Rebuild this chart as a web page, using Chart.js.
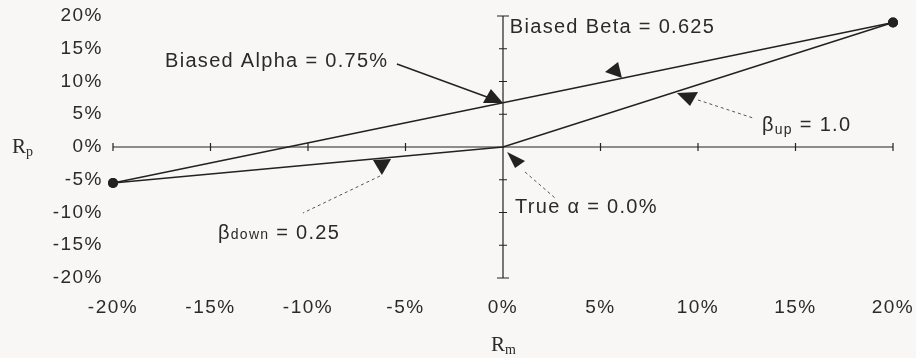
<!DOCTYPE html>
<html><head><meta charset="utf-8">
<script src="https://cdn.jsdelivr.net/npm/chart.js@4.4.0/dist/chart.umd.min.js"></script>
<style>html,body{margin:0;padding:0;background:#f8f7f5;} #wrap{width:916px;height:358px;position:relative;}</style>
</head><body><div id="wrap"><canvas id="c"></canvas></div>
<script>
// ---- data (percent) ----
const marketReturns = [-20, 0, 20];        // R_m for the true (kinked) line
const trueReturns   = [-5.5, 0, 19];       // R_p for the true (kinked) line
const biasedMarket  = [-20, 20];           // R_m for the fitted (biased) line
const biasedReturns = [-5.5, 19];          // R_p for the fitted (biased) line
const xTicks = [-20, -15, -10, -5, 0, 5, 10, 15, 20];
const yTicks = [-20, -15, -10, -5, 0, 5, 10, 15, 20];

// annotation texts & anchor points (in data units)
const noteBeta   = {text: 'Biased Beta = 0.625', x: 0.35, y: 18.2};
const noteAlpha  = {text: 'Biased Alpha = 0.75%', x: -17.33, y: 13.1};
const noteUp     = {text: ' = 1.0', sym: 'β', sub: 'up', x: 13.28, y: 3.36};
const noteDown   = {text: ' = 0.25', sym: 'β', sub: 'down', x: -14.62, y: -13.13};
const noteTrue   = {text: 'True α = 0.0%', x: 0.62, y: -9.16};

const arrowHeads = [
  [[-1.03, 6.72], [-0.62, 8.85], [0, 6.72]],
  [[5.23, 11.45], [5.9, 12.98], [6.1, 10.53]],
  [[8.92, 8.24], [10, 8.4], [9.59, 6.26]],
  [[-6.67, -1.98], [-5.74, -1.83], [-6.21, -4.27]],
  [[0.21, -0.76], [1.13, -2.14], [0.62, -3.21]]
];
const solidLeaders = [[[-5.44, 12.67], [-0.82, 7.63]]];
const dottedLeaders = [
  [[10, 7.18], [12.82, 4.43]],
  [[-6.31, -4.43], [-10.26, -10.08]],
  [[1.13, -3.82], [2.67, -7.79]]
];

const INK = '#222';
const TXT = '#2a2a2a';
const SANS = "'Liberation Sans', Arial, sans-serif";
const SERIF = "'Liberation Serif', 'Times New Roman', serif";

function drawRich(ctx, parts, x, y) {
  let cx = x;
  parts.forEach(p => {
    ctx.font = p.size + 'px ' + (p.family || SANS);
    ctx.fillText(p.t, cx, y + (p.dy || 0));
    cx += ctx.measureText(p.t).width;
  });
}

const refPlugin = {
  id: 'refPlugin',
  beforeLayout(chart) { chart.ctx.letterSpacing = '1.5px'; },
  beforeDraw(chart) {
    const c = chart.ctx;
    c.save(); c.fillStyle = '#f8f7f5'; c.fillRect(0, 0, chart.width, chart.height); c.restore();
    c.letterSpacing = '1.5px';
  },
  beforeDatasetsDraw(chart) {
    const {ctx, scales: {x, y}} = chart;
    const x0 = x.getPixelForValue(0), y0 = y.getPixelForValue(0);
    ctx.save();
    ctx.strokeStyle = INK; ctx.lineWidth = 1.2;
    ctx.beginPath();
    ctx.moveTo(x.left, y0); ctx.lineTo(x.right, y0);
    ctx.moveTo(x0, y.top); ctx.lineTo(x0, y.bottom);
    xTicks.forEach(v => { const p = x.getPixelForValue(v); ctx.moveTo(p, y0 - 4); ctx.lineTo(p, y0 + 4); });
    yTicks.forEach(v => { const p = y.getPixelForValue(v); const w = Math.abs(v) === 20 ? 6 : 4; ctx.moveTo(x0 - w, p); ctx.lineTo(x0 + w, p); });
    ctx.stroke();
    ctx.restore();
  },
  afterDraw(chart) {
    const {ctx, scales: {x, y}} = chart;
    const P = (pt) => [x.getPixelForValue(pt[0]), y.getPixelForValue(pt[1])];
    ctx.save();
    // leaders
    ctx.strokeStyle = INK; ctx.lineWidth = 1.5;
    solidLeaders.forEach(l => { const a = P(l[0]), b = P(l[1]); ctx.beginPath(); ctx.moveTo(a[0], a[1]); ctx.lineTo(b[0], b[1]); ctx.stroke(); });
    ctx.strokeStyle = '#555'; ctx.lineWidth = 1; ctx.setLineDash([3, 3]);
    dottedLeaders.forEach(l => { const a = P(l[0]), b = P(l[1]); ctx.beginPath(); ctx.moveTo(a[0], a[1]); ctx.lineTo(b[0], b[1]); ctx.stroke(); });
    ctx.setLineDash([]);
    // arrowheads
    ctx.fillStyle = INK;
    arrowHeads.forEach(t => {
      ctx.beginPath();
      t.forEach((pt, i) => { const q = P(pt); i ? ctx.lineTo(q[0], q[1]) : ctx.moveTo(q[0], q[1]); });
      ctx.closePath(); ctx.fill();
    });
    // texts
    ctx.fillStyle = TXT; ctx.textBaseline = 'middle'; ctx.textAlign = 'left';
    ctx.letterSpacing = '1.3px';
    [noteBeta, noteAlpha, noteTrue].forEach(n => {
      const q = P([n.x, n.y]);
      drawRich(ctx, [{t: n.text, size: 20}], q[0], q[1]);
    });
    let q = P([noteUp.x, noteUp.y]);
    drawRich(ctx, [{t: noteUp.sym, size: 20}, {t: noteUp.sub, size: 14, dy: 5}, {t: noteUp.text, size: 20}], q[0], q[1]);
    q = P([noteDown.x, noteDown.y]);
    drawRich(ctx, [{t: noteDown.sym, size: 20}, {t: noteDown.sub, size: 14, dy: 2}, {t: noteDown.text, size: 20}], q[0], q[1]);
    // axis titles
    ctx.letterSpacing = '0px';
    const xc = (x.left + x.right) / 2;
    drawRich(ctx, [{t: 'R', size: 21, family: SERIF}, {t: 'm', size: 14, dy: 5, family: SERIF}], xc - 12, 345);
    drawRich(ctx, [{t: 'R', size: 21, family: SERIF}, {t: 'p', size: 14, dy: 5, family: SERIF}], 12, y.getPixelForValue(0));
    ctx.restore();
  }
};

new Chart(document.getElementById('c'), {
  type: 'scatter',
  data: {
    datasets: [
      {
        label: 'True',
        data: marketReturns.map((m, i) => ({x: m, y: trueReturns[i]})),
        showLine: true, borderColor: INK, backgroundColor: INK, borderWidth: 1.6,
        pointRadius: [5, 0, 5], pointBackgroundColor: INK, pointBorderWidth: 0, clip: false
      },
      {
        label: 'Biased',
        data: biasedMarket.map((m, i) => ({x: m, y: biasedReturns[i]})),
        showLine: true, borderColor: INK, backgroundColor: INK, borderWidth: 1.6,
        pointRadius: 5, pointBackgroundColor: INK, pointBorderWidth: 0, clip: false
      }
    ]
  },
  options: {
    responsive: true, maintainAspectRatio: false, animation: false,
    layout: {padding: {top: 16, right: 23, left: 0, bottom: 0}},
    plugins: {legend: {display: false}, tooltip: {enabled: false}},
    scales: {
      x: {
        type: 'linear', min: -20, max: 20,
        afterBuildTicks: s => { s.ticks = xTicks.map(v => ({value: v})); },
        afterFit: s => { s.height = 80; s.paddingLeft = 0; s.paddingRight = 0; },
        grid: {display: false, drawTicks: false}, border: {display: false},
        ticks: {callback: v => v + '%', color: TXT, font: {family: SANS, size: 19}, padding: 18, maxRotation: 0, autoSkip: false}
      },
      y: {
        type: 'linear', min: -20, max: 20,
        afterBuildTicks: s => { s.ticks = yTicks.map(v => ({value: v})); },
        afterFit: s => { s.width = 113; s.paddingTop = 0; s.paddingBottom = 0; },
        grid: {display: false, drawTicks: false}, border: {display: false},
        ticks: {callback: v => v + '%', color: TXT, font: {family: SANS, size: 19}, padding: 10, autoSkip: false}
      }
    }
  },
  plugins: [refPlugin]
});
</script>
</body></html>
